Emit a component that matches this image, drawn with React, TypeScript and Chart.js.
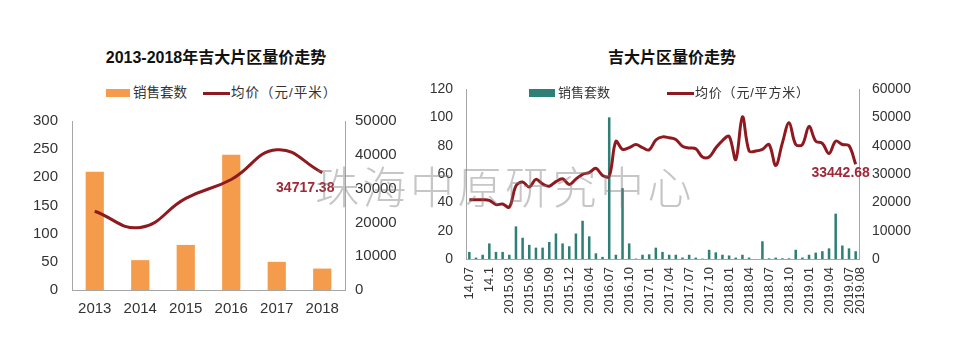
import React, { useEffect, useRef } from 'react';
import { Chart, registerables } from 'chart.js';

Chart.register(...registerables);

// ---------- Left chart data ----------
const yearLabels = ['2013', '2014', '2015', '2016', '2017', '2018'];
const yearSales = [210, 53, 80, 240, 50, 38];
const yearPrice = [23300, 18500, 27100, 32700, 41500, 34717.38];
const yearLastLabel = '34717.38';

// ---------- Right chart data ----------
const monthLabels = [
  '14.07', '14.08', '14.09', '14.1', '14.11', '14.12',
  '2015.03', '2015.04', '2015.05', '2015.06', '2015.07', '2015.08', '2015.09', '2015.10', '2015.11', '2015.12',
  '2016.01', '2016.02', '2016.04', '2016.05', '2016.06', '2016.07', '2016.08', '2016.09', '2016.10', '2016.11', '2016.12',
  '2017.01', '2017.02', '2017.03', '2017.04', '2017.05', '2017.06', '2017.07', '2017.08', '2017.09', '2017.10', '2017.11', '2017.12',
  '2018.01', '2018.02', '2018.03', '2018.04', '2018.05', '2018.06', '2018.07', '2018.08', '2018.09', '2018.10', '2018.11', '2018.12',
  '2019.01', '2019.02', '2019.03', '2019.04', '2019.05', '2019.06', '2019.07', '2019.08',
];
const monthSales = [
  5, 1, 3, 11, 5, 5, 3, 23, 15, 10,
  8, 8, 12, 18, 11, 9, 18, 27, 16, 4,
  1.5, 100, 3, 50, 11, 0.3, 3, 3.3, 8, 5,
  3, 3, 1, 3, 1, 0.3, 6.5, 4.7, 3, 2.5,
  1, 3, 1, 0, 12.5, 0.5, 1, 0.5, 0.5, 6.5,
  1, 3, 4.5, 5.5, 7.5, 32, 9.5, 7.5, 5.5,
];
const monthPrice = [
  20900, 20900, 20900, 20700, 19200, 19400, 18300, 25800, 27200, 25400,
  28100, 26500, 25700, 27300, 28300, 26300, 28200, 29900, 30500, 32000,
  29500, 29200, 41500, 38700, 39300, 40400, 39300, 38500, 42000, 43100,
  42800, 42200, 39800, 39200, 38900, 36000, 36000, 39200, 41800, 43300,
  35100, 50200, 38100, 38100, 38700, 40400, 33000, 41000, 48100, 40400,
  40400, 46800, 41600, 40800, 37200, 41600, 40400, 40000, 33442.68,
];
const monthLastLabel = '33442.68';

const ORANGE = '#F59B4C';
const TEAL = '#2E7F75';
const DARKRED = '#8E1A20';
const LABELRED = '#A02838';
const AXIS = '#A6A6A6';
const TICK = '#333333';
const FONT = '"Liberation Sans", Arial, sans-serif';
const CJK = '"Liberation Sans", "Noto Sans CJK SC", sans-serif';

const plain = (v: any) => String(v);

function lastLabelPlugin(id: string, dsIndex: number, text: string, dx: number, dy: number) {
  return {
    id,
    afterDatasetsDraw(chart: any) {
      const meta = chart.getDatasetMeta(dsIndex);
      const pts = meta.data;
      if (!pts || !pts.length) return;
      const p = pts[pts.length - 1];
      const ctx = chart.ctx;
      ctx.save();
      ctx.font = `bold 14px ${FONT}`;
      ctx.fillStyle = LABELRED;
      ctx.textAlign = 'center';
      ctx.textBaseline = 'middle';
      ctx.fillText(text, p.x + dx, p.y + dy);
      ctx.restore();
    },
  };
}

// Draws the final category label of the right chart slightly shifted (as in the source)
const lastTickPlugin = {
  id: 'lastTick',
  afterDraw(chart: any) {
    const sx = chart.scales.x;
    const i = monthLabels.length - 1;
    const x = sx.getPixelForTick(i) + 5;
    const y = sx.top + 8;
    const ctx = chart.ctx;
    ctx.save();
    ctx.translate(x, y);
    ctx.rotate(-Math.PI / 2);
    ctx.font = `13px ${FONT}`;
    ctx.fillStyle = TICK;
    ctx.textAlign = 'right';
    ctx.textBaseline = 'middle';
    ctx.fillText(monthLabels[i], 0, 0);
    ctx.restore();
  },
};

export default function App() {
  const leftRef = useRef<HTMLCanvasElement | null>(null);
  const rightRef = useRef<HTMLCanvasElement | null>(null);

  useEffect(() => {
    const left = new Chart(leftRef.current as HTMLCanvasElement, {
      type: 'bar',
      data: {
        labels: yearLabels,
        datasets: [
          {
            type: 'line',
            label: '均价（元/平米）',
            data: yearPrice,
            yAxisID: 'y1',
            borderColor: DARKRED,
            borderWidth: 3,
            tension: 0.45,
            pointRadius: 0,
            fill: false,
            order: 0,
          } as any,
          {
            type: 'bar',
            label: '销售套数',
            data: yearSales,
            yAxisID: 'y',
            backgroundColor: ORANGE,
            barPercentage: 0.4,
            categoryPercentage: 1,
            order: 1,
          },
        ],
      },
      options: {
        responsive: false,
        animation: false,
        devicePixelRatio: 1,
        layout: { padding: { top: 21, left: 0, right: 0, bottom: 0 } },
        plugins: { legend: { display: false }, tooltip: { enabled: false }, title: { display: false } },
        scales: {
          x: {
            grid: { display: false },
            border: { display: true, color: AXIS },
            ticks: { color: TICK, font: { family: FONT, size: 15 }, padding: 2 },
            afterFit: (s: any) => { s.height = 40; },
          },
          y: {
            min: 0, max: 300,
            grid: { display: false },
            border: { display: true, color: AXIS },
            ticks: { stepSize: 50, color: TICK, font: { family: FONT, size: 15 }, padding: 6, callback: plain },
            afterFit: (s: any) => { s.width = 72; },
          },
          y1: {
            position: 'right',
            min: 0, max: 50000,
            grid: { display: false },
            border: { display: true, color: AXIS },
            ticks: { stepSize: 10000, color: TICK, font: { family: FONT, size: 15 }, padding: 2, callback: plain },
            afterFit: (s: any) => { s.width = 75; },
          },
        },
      } as any,
      plugins: [lastLabelPlugin('leftLast', 0, yearLastLabel, -17, 15)],
    });

    const right = new Chart(rightRef.current as HTMLCanvasElement, {
      type: 'bar',
      data: {
        labels: monthLabels,
        datasets: [
          {
            type: 'line',
            label: '均价（元/平方米）',
            data: monthPrice,
            yAxisID: 'y1',
            borderColor: DARKRED,
            borderWidth: 3,
            tension: 0.35,
            pointRadius: 0,
            fill: false,
            order: 0,
          } as any,
          {
            type: 'bar',
            label: '销售套数',
            data: monthSales,
            yAxisID: 'y',
            backgroundColor: TEAL,
            barPercentage: 0.38,
            categoryPercentage: 1,
            order: 1,
          },
        ],
      },
      options: {
        responsive: false,
        animation: false,
        devicePixelRatio: 1,
        layout: { padding: { top: 19, left: 0, right: 0, bottom: 0 } },
        plugins: { legend: { display: false }, tooltip: { enabled: false }, title: { display: false } },
        scales: {
          x: {
            grid: { display: false },
            border: { display: true, color: AXIS },
            ticks: {
              color: TICK,
              font: { family: FONT, size: 13 },
              padding: 0,
              minRotation: 90,
              maxRotation: 90,
              autoSkip: false,
              callback: (_v: any, i: number) => (i % 3 === 0 ? monthLabels[i] : ''),
            },
            afterFit: (s: any) => { s.height = 93; },
          },
          y: {
            min: 0, max: 120,
            grid: { display: false },
            border: { display: true, color: AXIS },
            ticks: { stepSize: 20, color: TICK, font: { family: FONT, size: 14 }, padding: 5, callback: plain },
            afterFit: (s: any) => { s.width = 66; },
          },
          y1: {
            position: 'right',
            min: 0, max: 60000,
            grid: { display: false },
            border: { display: true, color: AXIS },
            ticks: { stepSize: 10000, color: TICK, font: { family: FONT, size: 14 }, padding: 5, callback: plain },
            afterFit: (s: any) => { s.width = 101; },
          },
        },
      } as any,
      plugins: [lastLabelPlugin('rightLast', 0, monthLastLabel, -15, 9), lastTickPlugin],
    });

    return () => {
      left.destroy();
      right.destroy();
    };
  }, []);

  const abs = (l: number, t: number, extra: React.CSSProperties = {}): React.CSSProperties => ({
    position: 'absolute', left: l, top: t, ...extra,
  });

  return (
    <div style={{ position: 'absolute', left: 0, top: 0, width: 960, height: 352, background: '#fff', overflow: 'hidden', fontFamily: CJK }}>
      {/* Left chart title & legend */}
      <div style={abs(0, 47, { width: 432, textAlign: 'center', fontSize: 16, fontWeight: 'bold', lineHeight: '22px', color: '#111' })}>
        2013-2018年吉大片区量价走势
      </div>
      <div style={abs(106, 89, { width: 24, height: 8, background: ORANGE })} />
      <div style={abs(133, 84, { fontSize: 13.5, lineHeight: '18px', color: '#333', whiteSpace: 'nowrap' })}>销售套数</div>
      <div style={abs(203, 92, { width: 27, height: 3, background: DARKRED })} />
      <div style={abs(231, 84, { fontSize: 13.5, lineHeight: '18px', color: '#333', whiteSpace: 'nowrap', letterSpacing: 1 })}>均价（元/平米）</div>
      <canvas ref={leftRef} width={420} height={230} style={abs(0, 100, { width: 420, height: 230 })} />

      {/* Right chart title & legend */}
      <div style={abs(572, 47, { width: 200, textAlign: 'center', fontSize: 16, fontWeight: 'bold', lineHeight: '22px', color: '#111' })}>
        吉大片区量价走势
      </div>
      <div style={abs(529, 89, { width: 26, height: 8, background: TEAL })} />
      <div style={abs(558, 84, { fontSize: 13, lineHeight: '18px', color: '#333', whiteSpace: 'nowrap' })}>销售套数</div>
      <div style={abs(667, 92, { width: 27, height: 3, background: DARKRED })} />
      <div style={abs(695, 84, { fontSize: 13, lineHeight: '18px', color: '#333', whiteSpace: 'nowrap', letterSpacing: 0.8 })}>均价（元/平方米）</div>
      <canvas ref={rightRef} width={560} height={282} style={abs(400, 70, { width: 560, height: 282 })} />

      {/* Watermark */}
      <div style={abs(315, 158, { fontSize: 44, lineHeight: '54px', letterSpacing: 3.5, color: 'rgba(120,120,120,0.42)', fontFamily: '"Noto Sans CJK SC", sans-serif', fontWeight: 300, whiteSpace: 'nowrap', pointerEvents: 'none' })}>
        珠海中原研究中心
      </div>
    </div>
  );
}
